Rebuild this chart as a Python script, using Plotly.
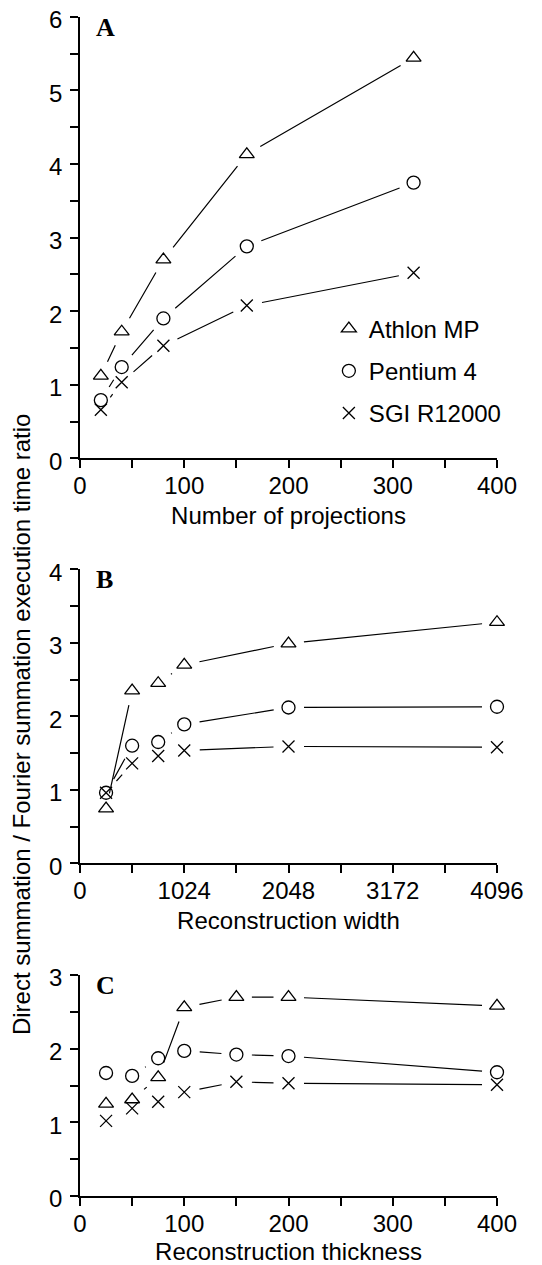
import plotly.graph_objects as go

# ---------------- data ----------------
series_names = ["Athlon MP", "Pentium 4", "SGI R12000"]

# Panel A: number of projections
proj_x = [20, 40, 80, 160, 320]
proj_athlon = [1.12, 1.72, 2.70, 4.13, 5.44]
proj_pentium = [0.79, 1.24, 1.90, 2.88, 3.745]
proj_sgi = [0.66, 1.034, 1.53, 2.076, 2.52]

# Panel B: reconstruction width
width_x = [256, 512, 768, 1024, 2048, 4096]
width_athlon = [0.745, 2.35, 2.45, 2.70, 2.99, 3.28]
width_pentium = [0.96, 1.60, 1.65, 1.89, 2.12, 2.13]
width_sgi = [0.96, 1.36, 1.46, 1.535, 1.59, 1.58]
width_tickvals = [0, 1024, 2048, 3072, 4096]
width_ticktext = ["0", "1024", "2048", "3172", "4096"]

# Panel C: reconstruction thickness
thick_x = [25, 50, 75, 100, 150, 200, 400]
thick_athlon = [1.25, 1.31, 1.61, 2.56, 2.70, 2.70, 2.58]
thick_pentium = [1.67, 1.63, 1.87, 1.97, 1.92, 1.90, 1.68]
thick_sgi = [1.02, 1.19, 1.28, 1.41, 1.55, 1.53, 1.51]

symbols = ["triangle-up-open", "circle-open", "x-thin-open"]
sizes = [13, 13, 12]

FONT = "Liberation Sans, Arial, Helvetica, sans-serif"
SERIF = "Liberation Serif, Times New Roman, serif"

# figure size (page body has an 8px default margin)
W, H = 534, 1257

panels = [
    ("x", "y", proj_x, [proj_athlon, proj_pentium, proj_sgi]),
    ("x2", "y2", width_x, [width_athlon, width_pentium, width_sgi]),
    ("x3", "y3", thick_x, [thick_athlon, thick_pentium, thick_sgi]),
]

fig = go.Figure()
annotations = []
for pi, (xa, ya, xs, ys_list) in enumerate(panels):
    for si, ys in enumerate(ys_list):
        fig.add_trace(go.Scatter(
            x=xs, y=ys, xaxis=xa, yaxis=ya, mode="markers",
            name=series_names[si], legendgroup=series_names[si],
            showlegend=(pi == 0), cliponaxis=False,
            marker=dict(symbol=symbols[si], size=sizes[si], color="black",
                        line=dict(width=1.3, color="black")),
        ))
        # connecting segments with gaps around markers
        for i in range(len(xs) - 1):
            annotations.append(dict(
                x=xs[i + 1], y=ys[i + 1], ax=xs[i], ay=ys[i],
                xref=xa, yref=ya, axref=xa, ayref=ya,
                text="", showarrow=True, arrowhead=0, arrowwidth=1.2,
                arrowcolor="black", standoff=15, startstandoff=15,
                font=dict(size=1), borderpad=0,
            ))

# panel letters
for letter, xa, ya in [("A", "x", "y"), ("B", "x2", "y2"), ("C", "x3", "y3")]:
    annotations.append(dict(
        text="<b>%s</b>" % letter, xref=xa + " domain", yref=ya + " domain",
        x=0.033, y=1.0, xanchor="left", yanchor="top", yshift=6, showarrow=False,
        font=dict(family=SERIF, size=26, color="black"),
    ))

# y title
annotations.append(dict(
    text="Direct summation / Fourier summation execution time ratio",
    xref="paper", yref="paper", x=(14.5 - 72.3) / 416.4, y=1 - 716 / H,
    xanchor="center", yanchor="middle",
    textangle=-90, showarrow=False, font=dict(family=FONT, size=24, color="black"),
))

def xaxis(domain_anchor, rng, title, dtick=None, tickvals=None, ticktext=None, minor_dtick=None):
    d = dict(
        domain=[0, 1], anchor=domain_anchor, range=rng, showgrid=False, zeroline=False,
        showline=True, linecolor="black", linewidth=1.5,
        ticks="outside", ticklen=8, tickwidth=1.5, tickcolor="black",
        ticklabelstandoff=-3, ticklabeloverflow="allow",
        tickfont=dict(family=FONT, size=24, color="black"),
        title=dict(text=title, font=dict(family=FONT, size=24, color="black"), standoff=9),
        minor=dict(ticks="outside", ticklen=8, tickwidth=1.5, tickcolor="black",
                   dtick=minor_dtick, showgrid=False),
        automargin=False, fixedrange=True,
    )
    if tickvals is not None:
        d.update(tickmode="array", tickvals=tickvals, ticktext=ticktext)
    else:
        d.update(tick0=0, dtick=dtick)
    return d

def yaxis(domain, anchor, rng):
    return dict(
        domain=domain, anchor=anchor, range=rng, showgrid=False, zeroline=False,
        showline=True, linecolor="black", linewidth=1.5,
        ticks="outside", ticklen=8, tickwidth=1.5, tickcolor="black",
        tick0=0, dtick=1, ticklabelstandoff=3, ticklabelshift=3,
        ticklabeloverflow="allow",
        tickfont=dict(family=FONT, size=24, color="black"),
        minor=dict(ticks="outside", ticklen=8, tickwidth=1.5, tickcolor="black",
                   dtick=0.5, showgrid=False),
        automargin=False, fixedrange=True,
    )

fig.update_layout(
    width=W, height=H,
    margin=dict(l=72, r=45, t=0, b=0),
    paper_bgcolor="white", plot_bgcolor="white",
    font=dict(family=FONT, color="black"),
    xaxis=xaxis("y", [0, 400], "Number of projections", dtick=100, minor_dtick=50),
    yaxis=yaxis([1 - 450.3 / H, 1 - 8.7 / H], "x", [0, 6]),
    xaxis2=xaxis("y2", [0, 4096], "Reconstruction width", tickvals=width_tickvals,
                 ticktext=width_ticktext, minor_dtick=512),
    yaxis2=yaxis([1 - 855.3 / H, 1 - 561.3 / H], "x2", [0, 4]),
    xaxis3=xaxis("y3", [0, 400], "Reconstruction thickness", dtick=100, minor_dtick=50),
    yaxis3=yaxis([1 - 1188 / H, 1 - 967 / H], "x3", [0, 3]),
    showlegend=True,
    legend=dict(
        x=318.7 / W, y=1 - 298.5 / H, xanchor="left", yanchor="top",
        font=dict(family=FONT, size=24, color="black"),
        bgcolor="rgba(0,0,0,0)", borderwidth=0,
        traceorder="grouped", tracegroupgap=8, itemwidth=30,
    ),
    annotations=annotations,
)

fig.write_html("out.html")
